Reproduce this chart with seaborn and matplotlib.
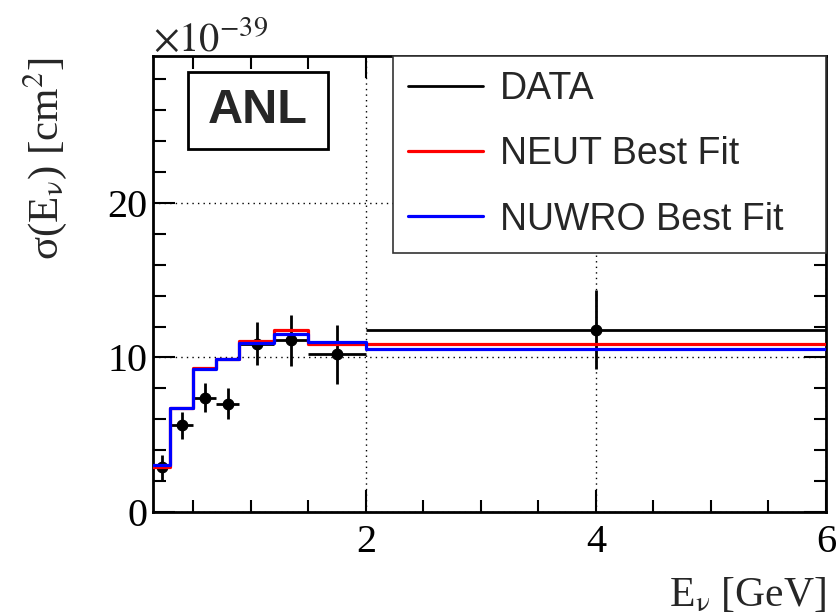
import numpy as np
import pandas as pd
import matplotlib
matplotlib.use("Agg")
import matplotlib.pyplot as plt
import seaborn as sns
from matplotlib.lines import Line2D
from matplotlib.patches import Rectangle

# ---- data (units of 1e-39 cm^2) ----
bin_edges = [0.15, 0.3, 0.5, 0.7, 0.9, 1.2, 1.5, 2.0, 6.0]
data_vals = [2.9, 5.6, 7.4, 7.0, 10.9, 11.1, 10.2, 11.8]
data_errs = [0.8, 0.87, 0.95, 1.0, 1.4, 1.67, 1.9, 2.56]
neut_vals = [2.9, 6.7, 9.3, 9.92, 11.08, 11.75, 10.86, 10.89]
nuwro_vals = [3.06, 6.7, 9.22, 9.87, 10.93, 11.49, 11.0, 10.54]
series_labels = ["DATA", "NEUT Best Fit", "NUWRO Best Fit"]

edges = np.array(bin_edges)
centers = 0.5 * (edges[:-1] + edges[1:])
halfw = 0.5 * (edges[1:] - edges[:-1])

df = pd.DataFrame({"E": centers, "data": data_vals, "err": data_errs,
                   "neut": neut_vals, "nuwro": nuwro_vals})

sns.set_theme(style="ticks")
plt.rcParams["font.family"] = ["Liberation Serif", "DejaVu Serif"]
plt.rcParams["mathtext.fontset"] = "stix"

fig = plt.figure(figsize=(8.36, 6.16), dpi=100)
ax = fig.add_axes([153/836, 1 - 512/616, 673/836, 456/616])

# data points
ax.errorbar(df["E"], df["data"], xerr=halfw, yerr=df["err"], fmt="o",
            color="black", ms=7.5, elinewidth=2.0, capsize=0, zorder=3)

# model histograms
sns.histplot(data=df, x="E", weights="neut", bins=bin_edges, element="step",
             fill=False, color="#ff0000", linewidth=2.3, ax=ax, zorder=4)
sns.histplot(data=df, x="E", weights="nuwro", bins=bin_edges, element="step",
             fill=False, color="#0000ff", linewidth=2.3, ax=ax, zorder=5)

ax.set_xlim(0.15, 6.0)
ax.set_ylim(0, 29.5)
ax.set_xticks([2, 4, 6])
ax.set_xticks(np.arange(0.5, 6.0, 0.5), minor=True)
ax.set_yticks([0, 10, 20])
ax.set_yticks(np.arange(0, 29.5, 2), minor=True)
ax.grid(True, which="major", color="black", linestyle=(0, (1, 3)), linewidth=1.0)
ax.set_axisbelow(True)

ax.tick_params(which="both", direction="in", top=True, right=True, width=1.5,
               colors="black")
ax.tick_params(which="major", length=16, labelsize=29)
ax.tick_params(axis="x", which="major", pad=9)
ax.tick_params(axis="y", which="major", pad=4)
ax.tick_params(which="minor", length=9)
for s in ax.spines.values():
    s.set_linewidth(2.0)
    s.set_color("black")

ax.set_xlabel(r"E$_{\mathrm{\nu}}$ [GeV]", fontsize=30, loc="right")
ax.xaxis.set_label_coords(1.0, -0.14)
ax.xaxis.label.set_va("top")
ax.set_ylabel(r"σ(E$_{\mathrm{\nu}}$) [cm$^{2}$]", fontsize=31, loc="top")
ax.yaxis.set_label_coords(-0.125, 0.998)

ax.text(0.0, 1.011, r"$\times10^{-39}$", transform=ax.transAxes,
        fontsize=29, ha="left", va="baseline")

# ANL label box
ax.add_patch(Rectangle((0.052, 0.796), 0.208, 0.169, transform=ax.transAxes,
                       fill=True, facecolor="white", edgecolor="black",
                       linewidth=2.0, zorder=6))
ax.text(0.156, 0.880, "ANL", transform=ax.transAxes, fontsize=35,
        fontweight="bold", family=["Liberation Sans", "DejaVu Sans"],
        ha="center", va="center", zorder=7)

handles = [Line2D([], [], color="black", lw=2),
           Line2D([], [], color="#ff0000", lw=2.3),
           Line2D([], [], color="#0000ff", lw=2.3)]
x0 = (393 - 153) / 673
leg = ax.legend(handles, series_labels, loc="upper left",
                bbox_to_anchor=(x0, 0.0, 1.0 - x0, 1.0), mode="expand",
                borderaxespad=0, fancybox=False,
                framealpha=1, edgecolor="#333333",
                prop={"family": ["Liberation Sans", "DejaVu Sans"], "size": 27},
                handlelength=2.0, handletextpad=0.45, labelspacing=0.78,
                borderpad=0.4)
leg.get_frame().set_linewidth(1.2)
leg.set_zorder(8)

fig.savefig("out.png", dpi=100)
